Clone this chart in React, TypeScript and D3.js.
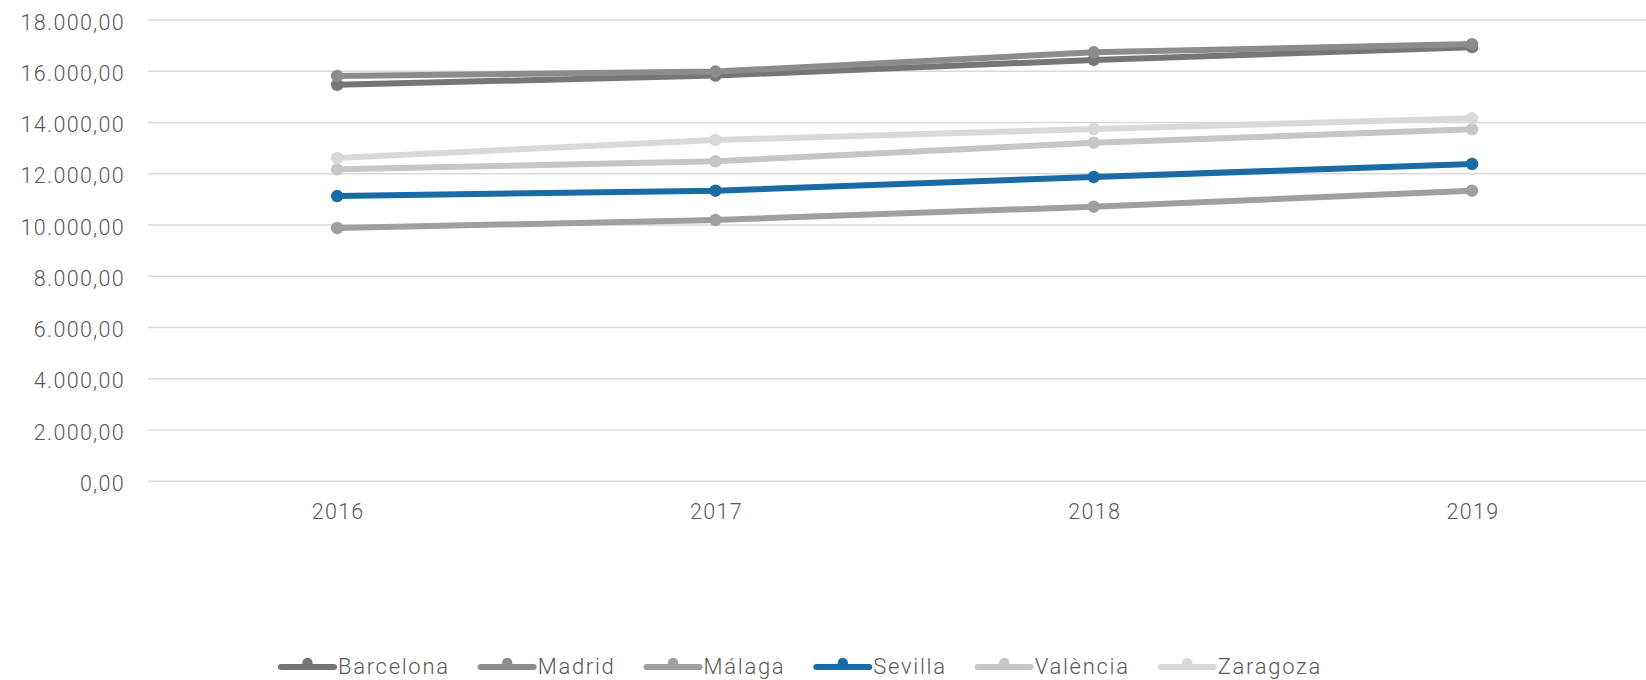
import React, { useEffect, useRef } from "react";
import * as d3 from "d3";

const years = ["2016", "2017", "2018", "2019"];
const seriesNames = ["Barcelona", "Madrid", "Málaga", "Sevilla", "València", "Zaragoza"];
const barcelona = [15470, 15830, 16440, 16940];
const madrid = [15815, 15990, 16740, 17060];
const malaga = [9884, 10196, 10715, 11339];
const sevilla = [11132, 11339, 11874, 12381];
const valencia = [12174, 12486, 13212, 13735];
const zaragoza = [12615, 13318, 13747, 14164];
const yTicks = [0, 2000, 4000, 6000, 8000, 10000, 12000, 14000, 16000, 18000];
const colors = ["#767676", "#8c8c8c", "#9f9f9f", "#1a6aa6", "#c6c6c6", "#d9d9d9"];

const W = 1646;
const H = 680;

const fmt = (v: number) => {
  const s = d3.format(",.2f")(v);
  return s.replace(/,/g, "#").replace(".", ",").replace(/#/g, ".");
};

export default function App() {
  const ref = useRef<SVGSVGElement>(null);
  useEffect(() => {
    const svg = d3.select(ref.current);
    svg.selectAll("*").remove();
    const values = [barcelona, madrid, malaga, sevilla, valencia, zaragoza];
    const x = d3.scaleBand().domain(years).range([148, 148 + 4 * 378.3]);
    const y = d3.scaleLinear().domain([0, 18000]).range([481.3, 20]);
    const font = "Roboto, 'DejaVu Sans', sans-serif";

    // gridlines
    svg.append("g")
      .selectAll("line")
      .data(yTicks)
      .join("line")
      .attr("x1", 148)
      .attr("x2", W)
      .attr("y1", (d) => y(d))
      .attr("y2", (d) => y(d))
      .attr("stroke", "#d9d9d9")
      .attr("stroke-width", 1.6);

    // y labels
    svg.append("g")
      .selectAll("text")
      .data(yTicks)
      .join("text")
      .attr("x", 125)
      .attr("y", (d) => y(d) + 2)
      .attr("text-anchor", "end")
      .attr("dominant-baseline", "central")
      .attr("font-family", font)
      .attr("font-weight", 300)
      .attr("font-size", 21.5)
      .attr("letter-spacing", 1.3)
      .attr("fill", "#595959")
      .text((d) => fmt(d));

    // x labels
    svg.append("g")
      .selectAll("text")
      .data(years)
      .join("text")
      .attr("x", (d) => (x(d) as number) + x.bandwidth() / 2 + 1)
      .attr("y", 511)
      .attr("text-anchor", "middle")
      .attr("dominant-baseline", "central")
      .attr("font-family", font)
      .attr("font-weight", 300)
      .attr("font-size", 21.5)
      .attr("letter-spacing", 1.3)
      .attr("fill", "#595959")
      .text((d) => d);

    const line = d3
      .line<number>()
      .x((_, i) => (x(years[i]) as number) + x.bandwidth() / 2)
      .y((d) => y(d));

    values.forEach((vals, si) => {
      const g = svg.append("g");
      g.append("path")
        .attr("d", line(vals) as string)
        .attr("fill", "none")
        .attr("stroke", colors[si])
        .attr("stroke-width", 6)
        .attr("stroke-linecap", "round")
        .attr("stroke-linejoin", "round");
      g.selectAll("circle")
        .data(vals)
        .join("circle")
        .attr("cx", (_, i) => (x(years[i]) as number) + x.bandwidth() / 2)
        .attr("cy", (d) => y(d))
        .attr("r", 6.2)
        .attr("fill", colors[si]);
    });

    // legend
    const lg = svg.append("g");
    let cx = 281;
    seriesNames.forEach((name, si) => {
      lg.append("line")
        .attr("x1", cx)
        .attr("x2", cx + 53)
        .attr("y1", 667)
        .attr("y2", 667)
        .attr("stroke", colors[si])
        .attr("stroke-width", 6)
        .attr("stroke-linecap", "round");
      lg.append("circle")
        .attr("cx", cx + 26.5)
        .attr("cy", 663)
        .attr("r", 5.2)
        .attr("fill", colors[si]);
      const t = lg.append("text")
        .attr("x", cx + 57)
        .attr("y", 666)
        .attr("dominant-baseline", "central")
        .attr("font-family", font)
        .attr("font-weight", 300)
        .attr("font-size", 22)
        .attr("letter-spacing", 1.7)
        .attr("fill", "#595959")
        .text(name);
      const w = (t.node() as SVGTextElement).getComputedTextLength();
      cx = cx + 57 + w + 31;
    });
  }, []);

  return (
    <svg
      ref={ref}
      width={W}
      height={H}
      style={{ position: "absolute", left: 0, top: 0, background: "#fff" }}
    />
  );
}
